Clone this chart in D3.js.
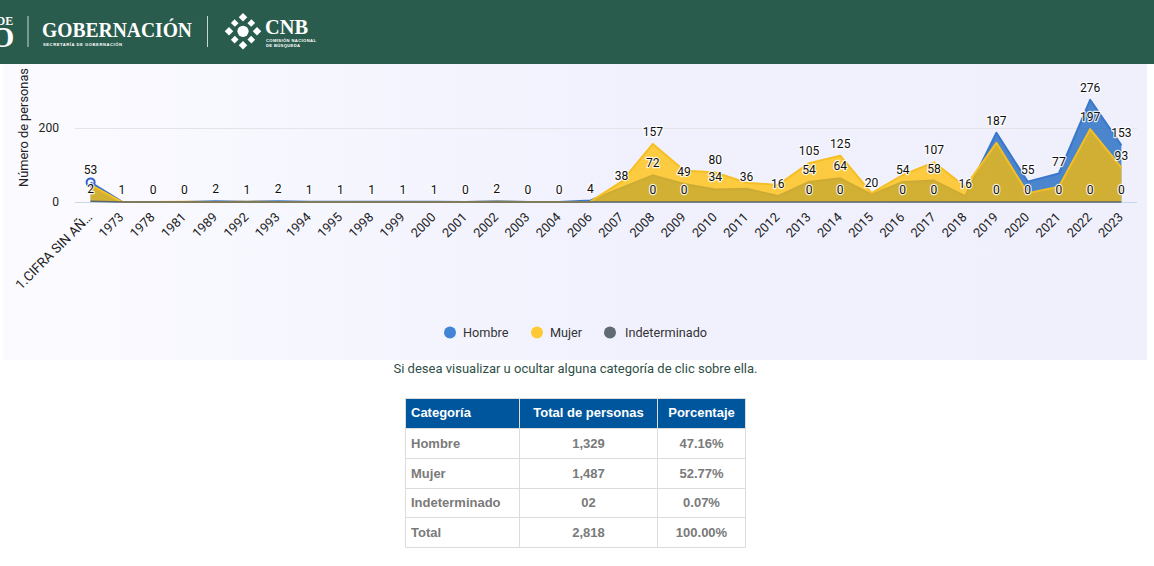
<!DOCTYPE html>
<html><head><meta charset="utf-8">
<script src="https://cdn.jsdelivr.net/npm/d3@7"></script>
<style>html,body{margin:0;padding:0;background:#fff;overflow:hidden}svg{display:block}text{font-family:Roboto,Arial,sans-serif}</style>
</head><body><svg id="c" width="1154" height="566"></svg>
<script>
const categories=["1.CIFRA SIN AÑ…","1973","1978","1981","1989","1992","1993","1994","1995","1998","1999","2000","2001","2002","2003","2004","2006","2007","2008","2009","2010","2011","2012","2013","2014","2015","2016","2017","2018","2019","2020","2021","2022","2023"];
const hombre=[53,1,0,0,2,1,2,1,1,1,1,1,0,2,0,0,4,38,72,49,34,36,16,54,64,20,54,58,16,187,55,77,276,153];
const mujer=[46,0,0,1,0,1,0,0,0,0,0,0,0,1,0,0,1,55,157,85,80,52,46,105,125,24,73,107,41,160,24,41,197,93];
const indeterminado=[2,0,0,0,0,0,0,0,0,0,0,0,0,0,0,0,0,0,0,0,0,0,0,0,0,0,0,0,0,0,0,0,0,0];
const mujerLabelled=["2008","2010","2013","2014","2017","2022","2023"];
const indetLabelled=["1.CIFRA SIN AÑ…","2008","2009","2013","2014","2016","2017","2019","2020","2021","2022","2023"];
const yTicks=[0,200];
const legendItems=["Hombre","Mujer","Indeterminado"];
const tableHead=["Categoría","Total de personas","Porcentaje"];
const tableRows=[["Hombre","1,329","47.16%"],["Mujer","1,487","52.77%"],["Indeterminado","02","0.07%"],["Total","2,818","100.00%"]];

const svg=d3.select("#c");
const defs=svg.append("defs");
const g=defs.append("linearGradient").attr("id","bg");
g.append("stop").attr("offset","0").attr("stop-color","#fbfbff");
g.append("stop").attr("offset",".55").attr("stop-color","#f1f1fe");
g.append("stop").attr("offset","1").attr("stop-color","#f0f0fd");
svg.append("rect").attr("x",3).attr("y",60).attr("width",1144).attr("height",300).attr("fill","url(#bg)");

const x=d3.scalePoint().domain(categories).range([75,1137]).padding(.5);
const y=d3.scaleLinear().domain([0,200]).range([202,128]);

// grid + axis
svg.append("g").selectAll("line").data(yTicks).join("line")
 .attr("x1",75).attr("x2",1137).attr("y1",d=>y(d)+.5).attr("y2",d=>y(d)+.5)
 .attr("stroke",d=>d===0?"#c9d6ea":"#e3e3e8");
svg.append("g").selectAll("text").data(yTicks).join("text")
 .attr("transform",d=>`translate(59,${y(d)+3.5}) scale(.93,1)`).attr("text-anchor","end").attr("font-size",13).attr("fill","#222").text(d=>d);
svg.append("text").attr("transform","translate(27.5,127.5) rotate(-90)").attr("text-anchor","middle").attr("font-size",12.8).attr("fill","#222").text("Número de personas");

const area=d3.area().x((d,i)=>x(categories[i])).y0(y(0)).y1(d=>y(d));
const line=d3.line().x((d,i)=>x(categories[i])).y(d=>y(d));
const series=[[hombre,"#1361bc","#3a76cc"],[mujer,"#ffbd00","#f5bf24"],[indeterminado,"#4a555c","#5a656c"]];
series.forEach(([v,f,s],k)=>{
 svg.append("path").datum(v).attr("d",area).attr("fill",f).attr("fill-opacity",.75);
 svg.append("path").datum(v).attr("d",line).attr("fill","none").attr("stroke",s).attr("stroke-width",k==2?1.6:2).attr("stroke-linejoin","round");
});
svg.append("circle").attr("cx",x(categories[0])).attr("cy",y(hombre[0])).attr("r",4).attr("fill","none").attr("stroke","#3366cc").attr("stroke-width",2);

// tick labels
svg.append("g").selectAll("text").data(categories).join("text")
 .attr("transform",d=>`translate(${x(d)+2.5},218) rotate(-45)`)
 .attr("text-anchor","end").attr("font-size",d=>d.length>4?13.3:12.8).attr("fill","#222").text(d=>d);

// data labels
const labels=[];
mujer.forEach((v,i)=>{if(mujerLabelled.includes(categories[i]))labels.push([i,v])});
hombre.forEach((v,i)=>labels.push([i,v]));
indeterminado.forEach((v,i)=>{if(indetLabelled.includes(categories[i]))labels.push([i,v])});
svg.append("g").selectAll("text").data(labels).join("text")
 .attr("transform",d=>`translate(${x(categories[d[0]])},${y(d[1])-8}) scale(.93,1)`)
 .attr("text-anchor","middle").attr("font-size",13).attr("fill","#111")
 .attr("stroke","#fff").attr("stroke-width",2.5).attr("stroke-opacity",.85).attr("paint-order","stroke").attr("stroke-linejoin","round")
 .text(d=>d[1]);

// legend
const legX=[450,537,610],legT=[463,550,625],legC=["#4285d6","#ffc933","#5f6a72"];
legendItems.forEach((t,i)=>{
 svg.append("circle").attr("cx",legX[i]).attr("cy",332.5).attr("r",6).attr("fill",legC[i]);
 svg.append("text").attr("x",legT[i]).attr("y",337).attr("font-size",12.7).attr("fill","#333").text(t);
});

// note
svg.append("text").attr("x",575.5).attr("y",373).attr("text-anchor","middle").attr("font-size",13).attr("fill","#2f5048").text("Si desea visualizar u ocultar alguna categoría de clic sobre ella.");

// table
const cols=[405.5,519.5,657.5,745.5],rows=[398.5,428.5,458.5,488.5,517.5,547.5];
const T=svg.append("g");
T.append("rect").attr("x",cols[0]).attr("y",rows[0]).attr("width",cols[3]-cols[0]).attr("height",rows[1]-rows[0]).attr("fill","#00569d");
rows.forEach(r=>T.append("line").attr("x1",cols[0]).attr("x2",cols[3]).attr("y1",r).attr("y2",r).attr("stroke","#dcdcdc"));
cols.forEach((c,i)=>T.append("line").attr("x1",c).attr("x2",c).attr("y1",rows[0]).attr("y2",rows[5]).attr("stroke","#dcdcdc"));
const cell=(t,r,c,fill)=>T.append("text").attr("x",c==0?cols[0]+5.5:(cols[c]+cols[c+1])/2).attr("y",(rows[r]+rows[r+1])/2+(r==0?3.5:4))
 .attr("text-anchor",c==0?"start":"middle").attr("font-size",13).attr("font-weight",700).attr("fill",fill).style("font-family","'Liberation Sans',Arial,sans-serif").text(t);
tableHead.forEach((t,c)=>cell(t,0,c,"#fff"));
tableRows.forEach((row,r)=>row.forEach((t,c)=>cell(t,r+1,c,"#7a7a7a")));

// header
const H=svg.append("g");
H.append("rect").attr("width",1154).attr("height",64).attr("fill","#2a5c4e");
const serif="'Liberation Serif',serif";
const ht=(t,xx,yy,fs,ff)=>H.append("text").attr("x",xx).attr("y",yy).attr("font-size",fs).attr("font-weight",700).attr("fill","#fff").style("font-family",ff||serif).text(t);
ht("DE",-3.5,25,12);
ht("O",-9,46.5,30);
ht("GOBERNACIÓN",42,37,21.5).attr("textLength",150).attr("lengthAdjust","spacingAndGlyphs");
ht("SECRETARÍA DE GOBERNACIÓN",43,45.5,4.2,"'Liberation Sans',sans-serif").attr("textLength",79);
ht("CNB",265,34,20).attr("textLength",43).attr("lengthAdjust","spacingAndGlyphs");
ht("COMISIÓN NACIONAL",266,41.5,4.2,"'Liberation Sans',sans-serif").attr("textLength",50);
ht("DE BÚSQUEDA",266,46.5,4.2,"'Liberation Sans',sans-serif").attr("textLength",34);
[[28,16,47],[207.5,16,47]].forEach(([a,b,c])=>H.append("line").attr("x1",a).attr("x2",a).attr("y1",b).attr("y2",c).attr("stroke","#c9d6d0").attr("stroke-width",1));
const E=H.append("g").attr("transform","translate(243,31.3)").attr("fill","#fff");
E.append("circle").attr("r",5.6);
d3.range(4).forEach(i=>{
 const a=i*90;
 E.append("rect").attr("x",-3).attr("y",-17).attr("width",6).attr("height",6).attr("transform",`rotate(${a}) rotate(45 0 -14)`);
 E.append("rect").attr("x",-2.6).attr("y",-14.5).attr("width",5.2).attr("height",5.6).attr("transform",`rotate(${a+45})`);
});
</script></body></html>
